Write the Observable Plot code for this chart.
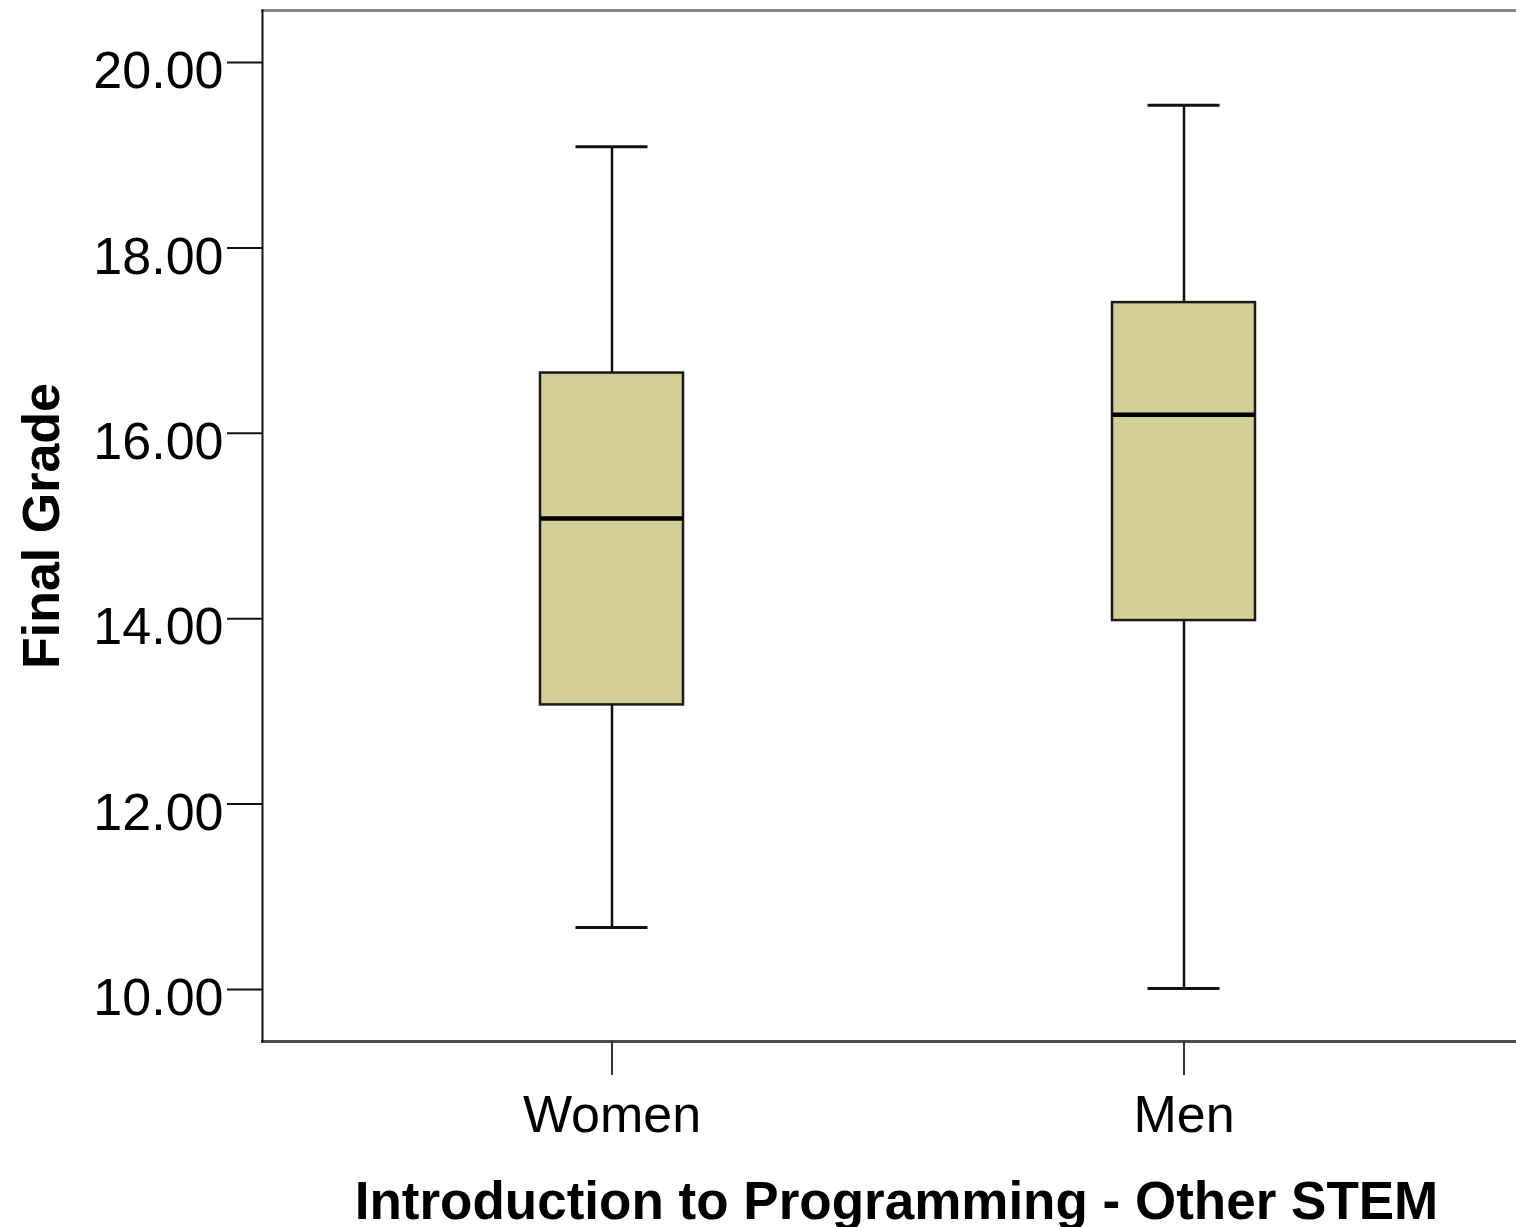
<!DOCTYPE html>
<html>
<head>
<meta charset="utf-8">
<script src="https://cdn.jsdelivr.net/npm/d3@7"></script>
<script src="https://cdn.jsdelivr.net/npm/@observablehq/plot@0.6"></script>
<style>
  html, body { margin: 0; padding: 0; background: #fff; overflow: hidden; }
  #chart svg { overflow: hidden !important; }
  g[aria-label="y-axis label"] text { font-weight: bold; }
  g[aria-label="x-axis label"] { translate: 7px 0px; }
  g[aria-label="x-axis label"] text { font-weight: bold; font-size: 53px; }
</style>
</head>
<body>
<div id="chart"></div>
<script>
// Data
const groups = ["Women", "Men"];
const minVals = [10.67, 10.01];
const q1Vals = [13.07, 13.98];
const medianVals = [15.08, 16.20];
const q3Vals = [16.65, 17.41];
const maxVals = [19.09, 19.54];
const yTicks = [10, 12, 14, 16, 18, 20];
const xTitle = "Introduction to Programming - Other STEM";
const yTitle = "Final Grade";

const data = groups.map((g, i) => ({
  group: g, min: minVals[i], q1: q1Vals[i], median: medianVals[i], q3: q3Vals[i], max: maxVals[i]
}));

const fmt = d3.format(".2f");

const chart = Plot.plot({
  width: 1516,
  height: 1227,
  marginLeft: 262,
  marginRight: 0,
  marginTop: 10,
  marginBottom: 186,
  style: { fontFamily: "'Liberation Sans', Arial, sans-serif", color: "#000", background: "#fff" },
  x: { domain: groups, range: [262, 1532], paddingInner: 0.75, paddingOuter: 0.485 },
  y: { domain: [9.439, 20.561] },
  marks: [
    Plot.frame({ anchor: "top", stroke: "#858585", strokeWidth: 3 }),
    Plot.frame({ anchor: "bottom", stroke: "#4a4a4a", strokeWidth: 3 }),
    Plot.ruleX(data, { x: "group", y1: "q3", y2: "max", stroke: "#111", strokeWidth: 2.5 }),
    Plot.ruleX(data, { x: "group", y1: "min", y2: "q1", stroke: "#111", strokeWidth: 2.5 }),
    Plot.tickY(data, { x: "group", y: "max", insetLeft: 35.5, insetRight: 35.5, stroke: "#111", strokeWidth: 3 }),
    Plot.tickY(data, { x: "group", y: "min", insetLeft: 35.5, insetRight: 35.5, stroke: "#111", strokeWidth: 3 }),
    Plot.barY(data, { x: "group", y1: "q1", y2: "q3", fill: "#d3ce97", stroke: "#1a1a1a", strokeWidth: 2.5 }),
    Plot.tickY(data, { x: "group", y: "median", stroke: "#000", strokeWidth: 4.5 }),
    // y tick lines
    Plot.axisY({
      ticks: yTicks, tickSize: 35, tickFormat: () => "", stroke: "#111", strokeWidth: 2, label: null
    }),
    // y tick labels (slightly lowered as in the reference) and title
    Plot.axisY({
      ticks: yTicks, tickFormat: fmt, tickSize: 0, tickPadding: 39, fontSize: 52, dy: 9,
      label: yTitle, labelAnchor: "center", labelArrow: "none", labelOffset: 240
    }),
    // x ticks, labels and title
    Plot.axisX({
      tickSize: 34, tickPadding: 20, fontSize: 52, stroke: "#333", strokeWidth: 2,
      label: xTitle, labelAnchor: "center", labelArrow: "none", labelOffset: 177
    }),
    Plot.frame({ anchor: "left", stroke: "#111", strokeWidth: 2 })
  ]
});

document.getElementById("chart").appendChild(chart);
</script>
</body>
</html>
